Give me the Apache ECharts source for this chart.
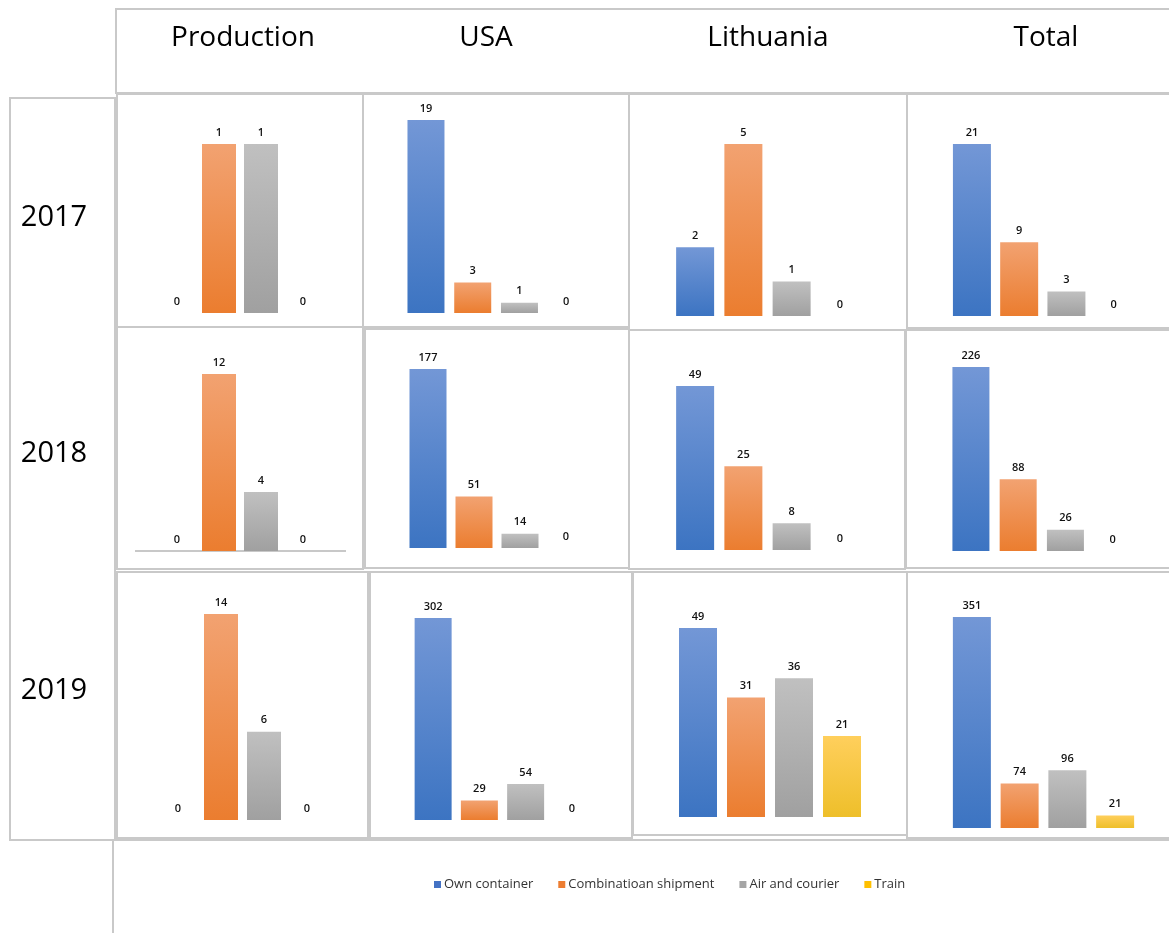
<!DOCTYPE html>
<html>
<head>
<meta charset="utf-8">
<title>Shipments by region and year</title>
<script src="https://cdn.jsdelivr.net/npm/echarts@6/dist/echarts.min.js"></script>
<style>
  html, body { margin: 0; padding: 0; background: #fff; }
  #chart { width: 1169px; height: 933px; }
</style>
</head>
<body>
<div id="chart"></div>
<script>
// Shipment counts per transport mode, by region (columns) and year (rows)
const years = ['2017', '2018', '2019'];
const regions = ['Production', 'USA', 'Lithuania', 'Total'];
const modes = ['Own container', 'Combinatioan shipment', 'Air and courier', 'Train'];

const production = [[0, 1, 1, 0], [0, 12, 4, 0], [0, 14, 6, 0]];
const usa        = [[19, 3, 1, 0], [177, 51, 14, 0], [302, 29, 54, 0]];
const lithuania  = [[2, 5, 1, 0], [49, 25, 8, 0], [49, 31, 36, 21]];
const total      = [[21, 9, 3, 0], [226, 88, 26, 0], [351, 74, 96, 21]];

const regionData = [production, usa, lithuania, total];

// Panel plot areas [left, top, width, height, barWidth], row by row
const panels = [
  [[156, 144, 168, 169, 34], [402.6, 120, 187, 193, 37], [671, 144, 193, 172, 38], [948.3, 144, 189, 172, 38]],
  [[156, 374, 168, 177, 34], [405, 369, 184, 179, 37], [671, 386, 193, 164, 38], [947.3, 367, 189, 184, 37]],
  [[156.5, 614, 172, 206, 34], [410, 618, 185, 202, 37], [674, 628, 192, 189, 38], [948, 617, 191, 211, 38]]
];

// Cell frames [x0, y0, x1, y1]
const cells = [
  [[117, 94, 363, 327], [363, 94, 629, 327], [629, 94, 907, 330], [907, 94, 1200, 328]],
  [[117, 327, 363, 569], [365, 329, 629, 568], [629, 330, 905, 569], [906, 330, 1200, 568]],
  [[117, 572, 368, 838], [370, 572, 632, 838], [633, 572, 907, 835], [907, 572, 1200, 838]]
];

const headerX = [243, 486, 768, 1046];
const yearY = [218, 454, 691];

const solid = ['#4472C4', '#ED7D31', '#A5A5A5', '#FFC000'];
const grad = [
  ['#7397D6', '#3C74C2'],
  ['#F2A271', '#EB7D2F'],
  ['#C0C0C0', '#A0A0A0'],
  ['#FFCF5C', '#EEBF2A']
].map(([a, b]) => new echarts.graphic.LinearGradient(0, 0, 0, 1, [
  { offset: 0, color: a }, { offset: 1, color: b }
]));

const grids = [], xAxes = [], yAxes = [], series = [];
let g = 0;
years.forEach((yr, r) => {
  regions.forEach((reg, c) => {
    const [left, top, width, height, bw] = panels[r][c];
    const values = regionData[c][r];
    grids.push({ left, top, width, height });
    xAxes.push({
      type: 'category', gridIndex: g, data: modes,
      axisLine: { show: false }, axisTick: { show: false }, axisLabel: { show: false },
      splitLine: { show: false }
    });
    yAxes.push({
      type: 'value', gridIndex: g, min: 0, max: 'dataMax', show: false,
      splitLine: { show: false }
    });
    modes.forEach((m, k) => {
      series.push({
        type: 'bar', name: m, xAxisIndex: g, yAxisIndex: g,
        stack: 'cell' + g, barWidth: bw,
        data: values.map((v, i) => (i === k ? v : '-')),
        itemStyle: { color: grad[k] },
        label: {
          show: true, position: 'top', distance: 6,
          fontFamily: 'Open Sans', fontSize: 11, fontWeight: 600, color: '#111'
        }
      });
    });
    g++;
  });
});

const border = '#c9c9c9';
const graphics = [];
// header band, year column and legend band
graphics.push({ type: 'rect', shape: { x: 116, y: 9, width: 1100, height: 84 }, style: { fill: 'none', stroke: border, lineWidth: 2 } });
graphics.push({ type: 'rect', shape: { x: 10, y: 98, width: 105, height: 742 }, style: { fill: 'none', stroke: border, lineWidth: 2 } });
graphics.push({ type: 'rect', shape: { x: 113, y: 840, width: 1100, height: 120 }, style: { fill: 'none', stroke: border, lineWidth: 2 } });
cells.forEach(row => row.forEach(([x0, y0, x1, y1]) => {
  graphics.push({ type: 'rect', shape: { x: x0, y: y0, width: x1 - x0, height: y1 - y0 }, style: { fill: 'none', stroke: border, lineWidth: 2 } });
}));
// baseline shown under the 2018 production panel
graphics.push({ type: 'line', shape: { x1: 135, y1: 551, x2: 346, y2: 551 }, style: { stroke: '#c8c8c8', lineWidth: 2 } });

regions.forEach((reg, c) => {
  graphics.push({
    type: 'text', x: headerX[c], y: 38,
    style: {
      text: reg, align: 'center', verticalAlign: 'middle',
      textAlign: 'center', textVerticalAlign: 'middle',
      fontFamily: 'Open Sans', fontSize: 28, fill: '#000'
    }
  });
});
years.forEach((yr, r) => {
  graphics.push({
    type: 'text', x: 54, y: yearY[r],
    style: {
      text: yr, align: 'center', verticalAlign: 'middle',
      textAlign: 'center', textVerticalAlign: 'middle',
      fontFamily: 'Open Sans', fontSize: 29, fill: '#000'
    }
  });
});

const chart = echarts.init(document.getElementById('chart'));
chart.setOption({
  animation: false,
  backgroundColor: '#fff',
  grid: grids,
  xAxis: xAxes,
  yAxis: yAxes,
  series: series,
  legend: {
    left: 429, top: 873,
    icon: 'rect', itemWidth: 7, itemHeight: 7, itemGap: 25,
    data: modes.map((m, k) => ({ name: m, itemStyle: { color: solid[k] } })),
    textStyle: { fontFamily: 'Open Sans', fontSize: 13, color: '#333', padding: [0, 0, 0, -2] }
  },
  graphic: graphics
});
</script>
</body>
</html>
